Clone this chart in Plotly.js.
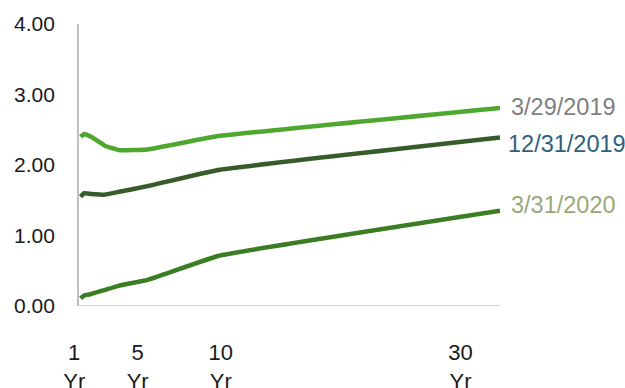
<!DOCTYPE html>
<html>
<head>
<meta charset="utf-8">
<script src="https://cdn.plot.ly/plotly-3.0.1.min.js"></script>
<style>html,body{margin:0;padding:0;background:#fff;}#chart{width:625px;height:388px;}</style>
</head>
<body>
<div id="chart"></div>
<script>
// Maturities in years
var maturities = [0.25, 0.5, 1, 2, 3, 5, 10, 30];
var seriesNames = ["3/29/2019", "12/31/2019", "3/31/2020"];
var yields_20190329 = [2.40, 2.44, 2.40, 2.27, 2.21, 2.22, 2.41, 2.81];
var yields_20191231 = [1.55, 1.60, 1.59, 1.58, 1.62, 1.70, 1.93, 2.39];
var yields_20200331 = [0.11, 0.15, 0.17, 0.23, 0.29, 0.37, 0.71, 1.35];
var xTickLabels = ["1<br>Yr", "5<br>Yr", "10<br>Yr", "30<br>Yr"];
var yTickValues = [0, 1, 2, 3, 4];

var seriesData = [yields_20190329, yields_20191231, yields_20200331];
var lineColors = ["#4EA72E", "#375B29", "#3A7D22"];
var labelColors = ["#7F7F7F", "#2F5F7E", "#98A87A"];
var labelYShift = [1, -6, 6];
var labelXShift = [9, 6, 9];
// label positions along the axis (as drawn in the source, offset from the data points)
var xTickPositions = [-0.2, 4.3, 10.2, 27.2];

var traces = seriesData.map(function (vals, i) {
  return {
    type: "scatter", mode: "lines", name: seriesNames[i],
    x: maturities, y: vals,
    line: {color: lineColors[i], width: 4.5, shape: "spline", smoothing: 0.25},
    hoverinfo: "x+y"
  };
});

var annotations = seriesData.map(function (vals, i) {
  return {
    xref: "x", yref: "y", x: maturities[maturities.length - 1], y: vals[vals.length - 1],
    text: seriesNames[i], showarrow: false, xanchor: "left", yanchor: "middle",
    xshift: labelXShift[i], yshift: labelYShift[i],
    font: {family: "Liberation Sans, Arial, sans-serif", size: 23.5, color: labelColors[i]}
  };
});

var layout = {
  width: 625, height: 388,
  margin: {l: 70, r: 125, t: 24, b: 82},
  paper_bgcolor: "#ffffff", plot_bgcolor: "#ffffff",
  showlegend: false,
  font: {family: "Liberation Sans, Arial, sans-serif", size: 21, color: "#1a1a1a"},
  xaxis: {
    range: [-0.5, 30],
    tickmode: "array", tickvals: xTickPositions, ticktext: xTickLabels,
    ticks: "outside", ticklen: 27, tickcolor: "rgba(0,0,0,0)",
    showgrid: false, zeroline: false, showline: false,
    tickfont: {size: 22, color: "#1a1a1a"}
  },
  yaxis: {
    range: [0, 4], anchor: "free", position: 7.05 / 430,
    tickmode: "array", tickvals: yTickValues,
    tickformat: ".2f",
    ticks: "outside", ticklen: 18, tickcolor: "rgba(0,0,0,0)",
    showgrid: false, zeroline: false,
    showline: true, linecolor: "#BFBFBF", linewidth: 1.5,
    tickfont: {size: 21, color: "#1a1a1a"}
  },
  shapes: [{
    type: "line", xref: "x", yref: "y", x0: 0, x1: 30, y0: 0, y1: 0,
    line: {color: "#BFBFBF", width: 1.5}, layer: "below"
  }],
  annotations: annotations
};

Plotly.newPlot("chart", traces, layout, {displayModeBar: false, staticPlot: true});
</script>
</body>
</html>
